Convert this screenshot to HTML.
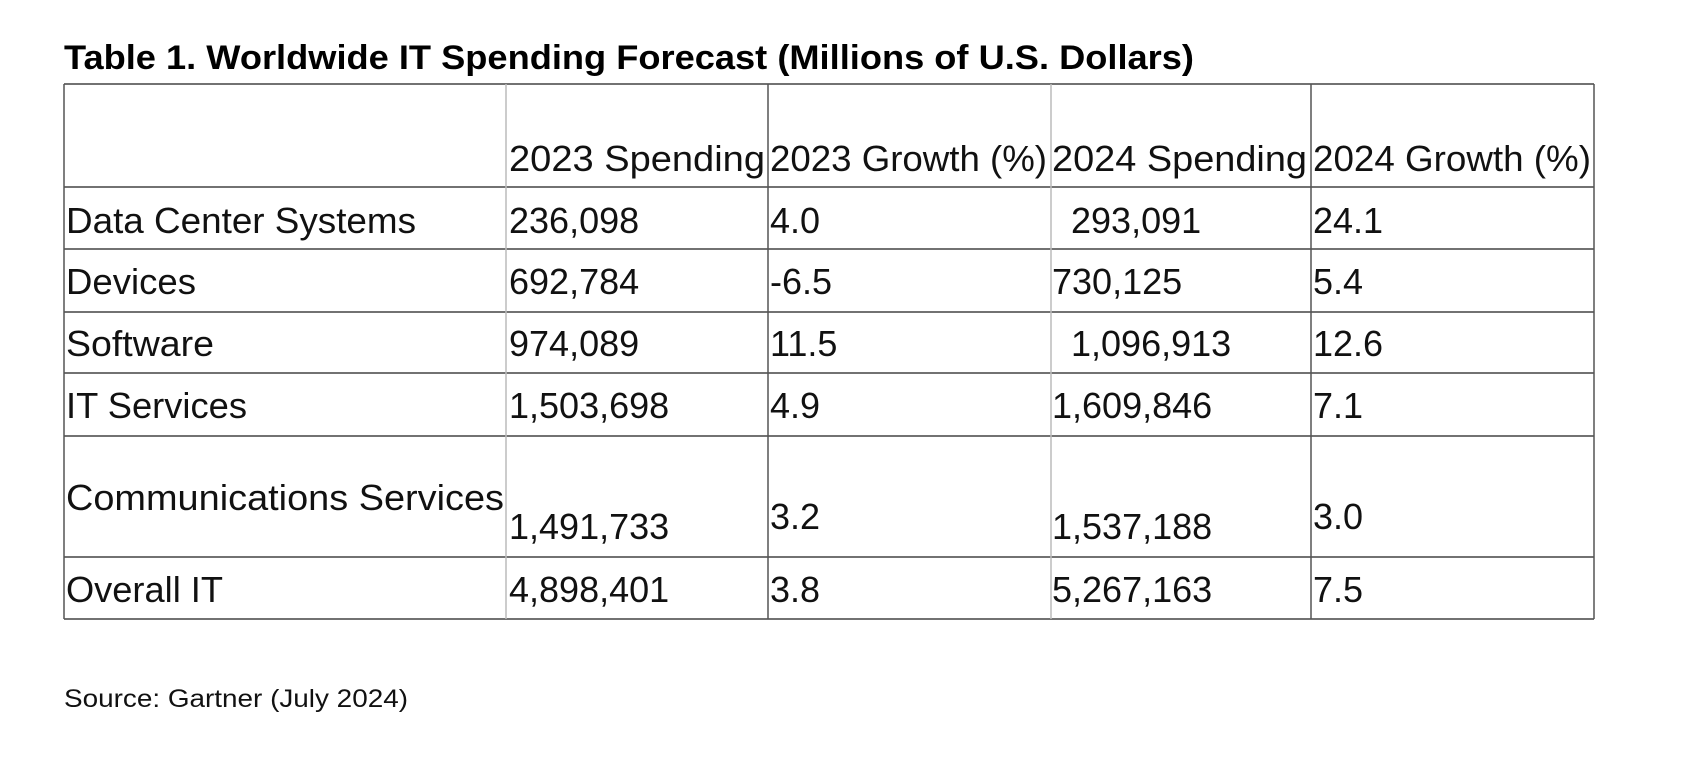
<!DOCTYPE html>
<html><head><meta charset="utf-8"><style>
html,body{margin:0;padding:0;background:#fff;}
svg{display:block;font-family:"Liberation Sans",sans-serif;}
</style></head><body>
<svg width="1696" height="758" viewBox="0 0 1696 758">
<text x="64" y="69" font-size="34" font-weight="bold" fill="#000" textLength="1130" lengthAdjust="spacingAndGlyphs">Table 1. Worldwide IT Spending Forecast (Millions of U.S. Dollars)</text>
<g id="grid"></g>
<g id="cells" font-size="36" fill="#111"></g>
<text x="64" y="707" font-size="25" fill="#111" textLength="344" lengthAdjust="spacingAndGlyphs">Source: Gartner (July 2024)</text>
</svg>
<script>
const headers = ["2023 Spending","2023 Growth (%)","2024 Spending","2024 Growth (%)"];
const headerW = [256,277,255,278];
const categories = ["Data Center Systems","Devices","Software","IT Services","Communications Services","Overall IT"];
const labelW = [350,130,148,181,438,157];
const spend2023 = ["236,098","692,784","974,089","1,503,698","1,491,733","4,898,401"];
const growth2023 = ["4.0","-6.5","11.5","4.9","3.2","3.8"];
const spend2024 = ["293,091","730,125","1,096,913","1,609,846","1,537,188","5,267,163"];
const growth2024 = ["24.1","5.4","12.6","7.1","3.0","7.5"];

const NS="http://www.w3.org/2000/svg";
const grid=document.getElementById('grid'), cells=document.getElementById('cells');
const rowY=[84,187,249,312,373,436,557,619];
const colX=[64,506,768,1051,1311,1594];
const colDark=[true,false,true,false,true,true];
function line(x1,y1,x2,y2,c,name){const l=document.createElementNS(NS,'line');l.setAttribute('x1',x1);l.setAttribute('y1',y1);l.setAttribute('x2',x2);l.setAttribute('y2',y2);l.setAttribute('stroke',c);l.setAttribute('stroke-width','1.5');


grid.appendChild(l);}
rowY.forEach(y=>line(64,y,1594,y,'#444','row-border'));
colX.forEach((x,i)=>line(x,84,x,619,colDark[i]?'#555':'#bbb','column-border'));
function txt(s,x,y,w,name){const t=document.createElementNS(NS,'text');t.setAttribute('x',x);t.setAttribute('y',y);t.textContent=s;if(w){t.setAttribute('textLength',w);t.setAttribute('lengthAdjust','spacingAndGlyphs');}


cells.appendChild(t);}
const hx=[509,770,1052,1313];
headers.forEach((h,i)=>txt(h,hx[i],171,headerW[i],'column-header'));
const baseY=[233,294,356,418,539,602];
const labelY=[233,294,356,418,510,602];
const growY=[233,294,356,418,529,602];
const s24x=[1071,1052,1071,1052,1052,1052];
categories.forEach((c,i)=>{
  txt(c,66,labelY[i],labelW[i],'row-label');
  txt(spend2023[i],509,baseY[i],null,'spend-2023-cell');
  txt(growth2023[i],770,growY[i],null,'growth-2023-cell');
  txt(spend2024[i],s24x[i],baseY[i],null,'spend-2024-cell');
  txt(growth2024[i],1313,growY[i],null,'growth-2024-cell');
});
</script>
</body></html>
